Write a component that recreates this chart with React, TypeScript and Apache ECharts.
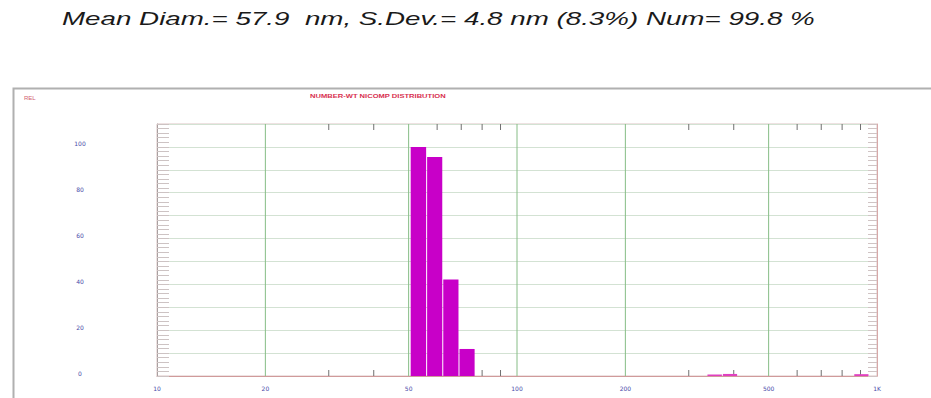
import React, { useEffect, useRef } from "react";
import * as echarts from "echarts";

const xTickValues = [10, 20, 50, 100, 200, 500, 1000];
const xTickLabels = ["10", "20", "50", "100", "200", "500", "1K"];
const xGridValues = [20, 50, 100, 200, 500];
const xMinorTicks = [30, 40, 60, 70, 80, 90, 300, 400, 600, 700, 800, 900];
const yLabelValues = [0, 20, 40, 60, 80, 100];

const binLow = [50.5, 56.1, 62.2, 69.0, 337, 372, 862];
const binHigh = [56.1, 62.2, 69.0, 76.5, 372, 410, 950];
const relValues = [100, 95.6, 42.1, 11.8, 0.4, 0.9, 0.8];

const headerText = "Mean Diam.= 57.9  nm, S.Dev.= 4.8 nm (8.3%) Num= 99.8 %";
const chartTitle = "NUMBER-WT NICOMP DISTRIBUTION";
const yTitle = "REL";

const X_MIN = 10;
const X_MAX = 1000;
const Y_MIN = 0;
const Y_MAX = 110;

export default function App() {
  const ref = useRef<HTMLDivElement>(null);
  useEffect(() => {
    document.body.style.margin = "0";
    const chart = echarts.init(ref.current!, null, { renderer: "svg" });
    const option: any = {
      animation: false,
      backgroundColor: "#ffffff",
      grid: {
        left: 157,
        top: 124,
        right: 54,
        bottom: 22,
        show: true,
        borderColor: "#dcc4c4",
        borderWidth: 1,
        containLabel: false,
      },
      xAxis: {
        type: "log",
        logBase: 10,
        min: X_MIN,
        max: X_MAX,
        axisLine: { show: true, lineStyle: { color: "#d09a9a", width: 1 } },
        axisTick: { show: false },
        axisLabel: { show: false },
        splitLine: { show: false },
        minorTick: { show: false },
        minorSplitLine: { show: false },
      },
      yAxis: [
        {
          type: "value",
          min: Y_MIN,
          max: Y_MAX,
          interval: 10,
          position: "left",
          axisLine: { show: true, lineStyle: { color: "#a8a0a0" } },
          axisTick: { show: true, inside: true, length: 12, lineStyle: { color: "#cdc3c3" } },
          minorTick: { show: true, splitNumber: 5, length: 12, lineStyle: { color: "#cdc3c3" } },
          axisLabel: {
            margin: 77,
            align: "center",
            verticalAlign: "bottom",
            color: "#4a4aa8",
            fontSize: 6,
            fontFamily: "DejaVu Sans",
            formatter: (v: number) => (yLabelValues.indexOf(v) >= 0 ? String(v) : ""),
          },
          splitLine: { show: true, lineStyle: { color: "#d3e2d3", width: 1 } },
        },
        {
          type: "value",
          min: Y_MIN,
          max: Y_MAX,
          interval: 10,
          position: "right",
          axisLine: { show: true, lineStyle: { color: "#d8a8a8" } },
          axisTick: { show: true, inside: true, length: 9, lineStyle: { color: "#d0c4c4" } },
          minorTick: { show: true, splitNumber: 5, length: 9, lineStyle: { color: "#d0c4c4" } },
          axisLabel: { show: false },
          splitLine: { show: false },
        },
      ],
      graphic: [
        {
          type: "rect",
          left: 11,
          top: 86,
          shape: { width: 960, height: 400 },
          style: { fill: "none", stroke: "#b0b0b0", lineWidth: 2 },
          z: -10,
        },
        {
          type: "text",
          x: 62,
          y: 19,
          scaleX: 1.5,
          style: {
            text: headerText,
            fontSize: 18.5,
            fontStyle: "italic",
            fontFamily: "Liberation Sans",
            fill: "#1a1a1a",
            verticalAlign: "middle",
          },
        },
        {
          type: "text",
          x: 310,
          y: 96,
          scaleX: 1.38,
          style: {
            text: chartTitle,
            fontSize: 5.5,
            fontWeight: "bold",
            fontFamily: "Liberation Sans",
            fill: "#d83050",
            verticalAlign: "middle",
          },
        },
        {
          type: "text",
          x: 24,
          y: 98,
          style: {
            text: yTitle,
            fontSize: 6,
            fontFamily: "Liberation Sans",
            fill: "#d06070",
            verticalAlign: "middle",
          },
        },
      ],
      series: [
        {
          type: "custom",
          name: "gridX",
          silent: true,
          data: xGridValues.map((v) => [v, Y_MIN]),
          encode: { x: 0, y: 1 },
          renderItem: (params: any, api: any) => {
            const v = api.value(0);
            const p0 = api.coord([v, Y_MIN]);
            const p1 = api.coord([v, Y_MAX]);
            return {
              type: "line",
              shape: { x1: p0[0], y1: p0[1], x2: p1[0], y2: p1[1] },
              style: { stroke: "#86bd86", lineWidth: 1 },
            };
          },
        },
        {
          type: "custom",
          name: "minorX",
          silent: true,
          data: xMinorTicks.map((v) => [v, Y_MIN]),
          encode: { x: 0, y: 1 },
          renderItem: (params: any, api: any) => {
            const v = api.value(0);
            const p0 = api.coord([v, Y_MIN]);
            const p1 = api.coord([v, Y_MAX]);
            return {
              type: "group",
              children: [
                {
                  type: "line",
                  shape: { x1: p0[0], y1: p0[1], x2: p0[0], y2: p0[1] - 6 },
                  style: { stroke: "#707070", lineWidth: 1 },
                },
                {
                  type: "line",
                  shape: { x1: p1[0], y1: p1[1], x2: p1[0], y2: p1[1] + 6 },
                  style: { stroke: "#707070", lineWidth: 1 },
                },
              ],
            };
          },
        },
        {
          type: "custom",
          name: "bars",
          silent: true,
          data: binLow.map((lo, i) => [lo, binHigh[i], relValues[i]]),
          encode: { x: [0, 1], y: 2 },
          renderItem: (params: any, api: any) => {
            const a = api.coord([api.value(0), api.value(2)]);
            const b = api.coord([api.value(1), Y_MIN]);
            const h = Math.max(b[1] - a[1], 1.5);
            const small = api.value(2) < 5;
            return {
              type: "rect",
              shape: { x: a[0] + 0.5, y: b[1] - h, width: b[0] - a[0] - 1, height: h },
              style: { fill: small ? "#e040c0" : "#c800c8" },
            };
          },
        },
        {
          type: "custom",
          name: "xLabels",
          silent: true,
          data: xTickValues.map((v) => [v, Y_MIN]),
          encode: { x: 0, y: 1 },
          renderItem: (params: any, api: any) => {
            const p = api.coord([api.value(0), Y_MIN]);
            return {
              type: "text",
              x: p[0],
              y: p[1] + 12,
              style: {
                text: xTickLabels[params.dataIndex],
                fontSize: 6,
                fontFamily: "DejaVu Sans",
                fill: "#4a4aa8",
                align: "center",
                verticalAlign: "middle",
              },
            };
          },
        },
      ],
    };
    chart.setOption(option);
    return () => chart.dispose();
  }, []);
  return <div ref={ref} style={{ width: 931, height: 398 }} />;
}
